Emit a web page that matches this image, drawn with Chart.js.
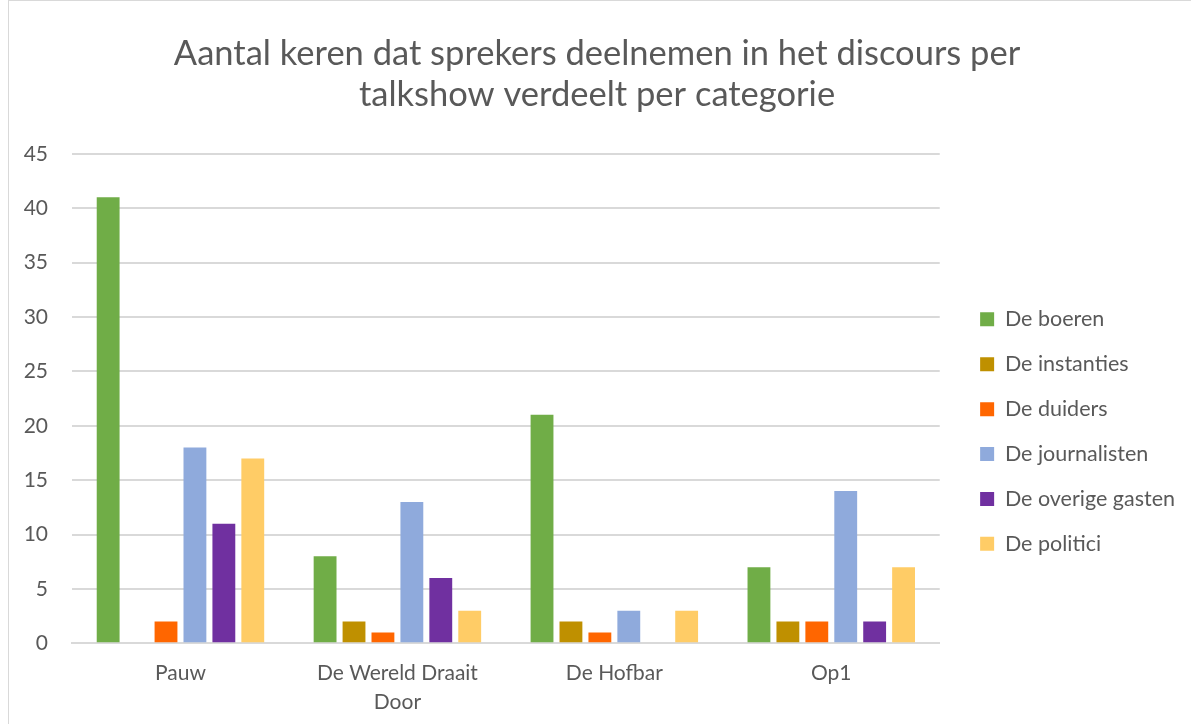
<!DOCTYPE html>
<html>
<head>
<meta charset="utf-8">
<script src="https://cdn.jsdelivr.net/npm/chart.js@4/dist/chart.umd.min.js"></script>
<style>
  html, body { margin: 0; padding: 0; background: #fff; }
  #frame { position: absolute; left: 8px; top: 0; width: 1190px; height: 730px; border: 1px solid #d9d9d9; box-sizing: border-box; }
  #wrap { position: absolute; left: 9px; top: 1px; width: 1182px; height: 723px; }
</style>
</head>
<body>
<div id="frame"></div>
<div id="wrap"><canvas id="chart"></canvas></div>
<script>
const talkshows = ['Pauw', ['De Wereld Draait', 'Door'], 'De Hofbar', 'Op1'];
const seriesNames = ['De boeren', 'De instanties', 'De duiders', 'De journalisten', 'De overige gasten', 'De politici'];
const boeren = [41, 8, 21, 7];
const instanties = [0, 2, 2, 2];
const duiders = [2, 1, 1, 2];
const journalisten = [18, 13, 3, 14];
const overigeGasten = [11, 6, 0, 2];
const politici = [17, 3, 3, 7];
const colors = ['#70ad47', '#bf9000', '#ff6600', '#8faadc', '#7030a0', '#ffcc66'];

const values = [boeren, instanties, duiders, journalisten, overigeGasten, politici];
const grey = '#595959';
const font = 'Lato, "Open Sans", sans-serif';
const legendGap = 17;

// widen the gap between plot and legend without moving the legend itself
const legendGapPlugin = {
  id: 'legendGap',
  beforeLayout(chart) {
    const lg = chart.legend;
    if (lg && !lg._gapPatched) {
      const fit = lg.fit.bind(lg);
      lg.fit = function () { fit(); this.width += legendGap; };
      lg._gapPatched = true;
    }
  },
  afterLayout(chart) {
    const lg = chart.legend;
    if (lg) { lg.left += legendGap; }
  },
};

const ctx = document.getElementById('chart').getContext('2d');
new Chart(ctx, {
  type: 'bar',
  data: {
    labels: talkshows,
    datasets: seriesNames.map((name, i) => ({
      label: name,
      data: values[i],
      backgroundColor: colors[i],
      barPercentage: 0.79,
      categoryPercentage: 0.8,
    })),
  },
  options: {
    responsive: true,
    maintainAspectRatio: false,
    animation: false,
    layout: { padding: { left: 0, right: 6, bottom: 0, top: 0 } },
    plugins: {
      title: {
        display: true,
        text: ['Aantal keren dat sprekers deelnemen in het discours per', 'talkshow verdeelt per categorie'],
        color: grey,
        font: { family: font, size: 34.5, weight: 'normal' },
        padding: { top: 32, bottom: 38 },
        lineHeight: 1.33,
      },
      legend: {
        position: 'right',
        title: { display: true, text: '', font: { size: 1 }, padding: { top: 137, bottom: 0 } },
        labels: {
          color: grey,
          font: { family: font, size: 21.5 },
          boxWidth: 14,
          boxHeight: 14,
          padding: 23.4,
        },
      },
      tooltip: { enabled: false },
    },
    scales: {
      x: {
        grid: { display: false },
        border: { color: '#d9d9d9', width: 2 },
        ticks: { color: grey, font: { family: font, size: 21, lineHeight: 1.35 }, maxRotation: 0, padding: 8 },
      },
      y: {
        min: 0,
        max: 45,
        afterFit(scale) { scale.width = 63; },
        ticks: { stepSize: 5, color: grey, font: { family: font, size: 21 }, padding: 24 },
        grid: { color: '#d9d9d9', lineWidth: 2, drawTicks: false },
        border: { display: false },
      },
    },
  },
  plugins: [legendGapPlugin],
});
</script>
</body>
</html>
